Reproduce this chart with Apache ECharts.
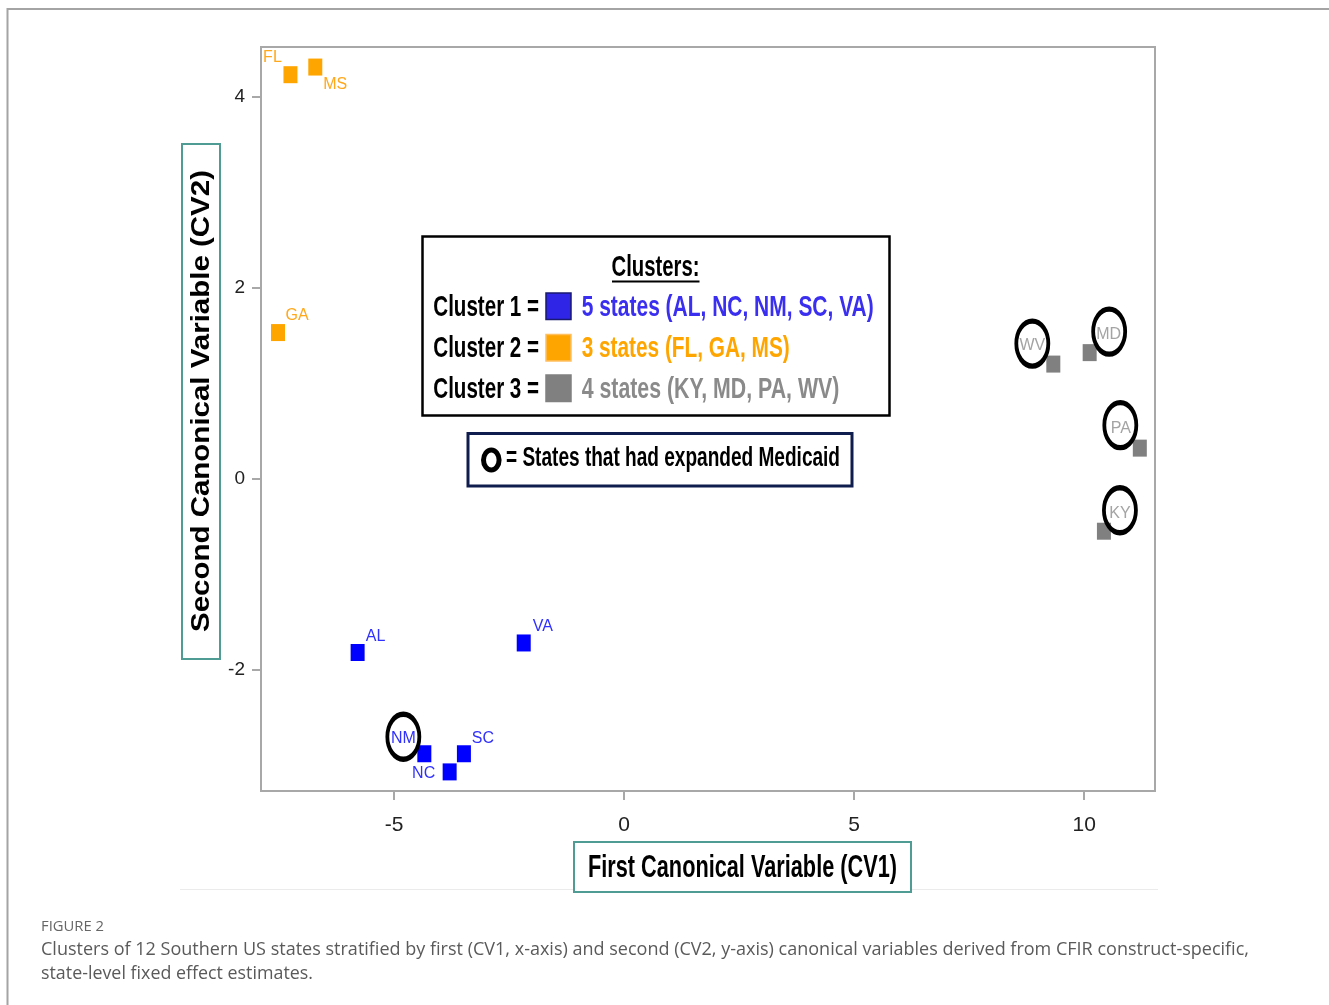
<!DOCTYPE html>
<html>
<head>
<meta charset="utf-8">
<style>
  html, body { margin: 0; padding: 0; background: #fff; }
  #chart { width: 1329px; height: 1005px; }
</style>
<script src="https://cdn.jsdelivr.net/npm/echarts@6/dist/echarts.min.js"></script>
</head>
<body>
<div id="chart"></div>
<script>
// ---------------- DATA ----------------
const states     = ['AL', 'NC', 'NM', 'SC', 'VA', 'FL', 'GA', 'MS', 'KY', 'MD', 'PA', 'WV'];
const clusterOf  = [1, 1, 1, 1, 1, 2, 2, 2, 3, 3, 3, 3];
const cv1        = [-5.79, -3.79, -4.34, -3.48, -2.18, -7.25, -7.52, -6.71, 10.43, 10.12, 11.21, 9.33];
const cv2        = [-1.82, -3.07, -2.88, -2.88, -1.72, 4.23, 1.53, 4.31, -0.55, 1.32, 0.32, 1.20];
const expandedMedicaid = ['NM', 'KY', 'MD', 'PA', 'WV'];
const xTickValues = [-5, 0, 5, 10];
const yTickValues = [-2, 0, 2, 4];
const clusterNames = ['Cluster 1 =', 'Cluster 2 =', 'Cluster 3 ='];
const clusterDescriptions = ['5 states (AL, NC, NM, SC, VA)', '3 states (FL, GA, MS)', '4 states (KY, MD, PA, WV)'];
const legendTitle = 'Clusters:';
const medicaidNote = '= States that had expanded Medicaid';
const xTitle = 'First Canonical Variable (CV1)';
const yTitle = 'Second Canonical Variable (CV2)';
const figureLabel = 'FIGURE 2';
const captionLines = [
  'Clusters of 12 Southern US states stratified by first (CV1, x-axis) and second (CV2, y-axis) canonical variables derived from CFIR construct-specific,',
  'state-level fixed effect estimates.'
];

// ---------------- STYLE ----------------
const squareColors = { 1: '#0000ff', 2: '#ffa500', 3: '#808080' };
const labelColors  = { 1: '#3030ff', 2: '#ffa81c', 3: '#a4a4a4' };
const legendTextColors = ['#3a2ff0', '#ffa500', '#8a8a8a'];
const legendSquareColors = ['#2f25e6', '#ffa500', '#808080'];
const legendSquareBorders = ['#1a1a70', '#ffc060', '#808080'];
// pixel offsets of the state labels from their squares
const labelOffset = {
  FL: [-18, -17], MS: [20, 18], GA: [19, -17], AL: [18, -16], VA: [19, -16],
  NM: [-21, -15], NC: [-26, 2], SC: [19, -15],
  WV: [-21, -18], MD: [19, -18], PA: [-19, -20], KY: [16, -18]
};
// ring offsets (around the labels of expanded-Medicaid states)
const ringOffset = {
  NM: [-21, -17], WV: [-21, -20.5], MD: [19.5, -21], PA: [-19.5, -23], KY: [16, -21]
};

const SANS = '"Liberation Sans", Arial, Helvetica, sans-serif';
const CAPTION = '"Open Sans", "Noto Sans", sans-serif';

const mctx = document.createElement('canvas').getContext('2d');
function fit(text, font, target) {
  mctx.font = font;
  return target / mctx.measureText(text).width;
}
function fittedText(text, x, y, opts) {
  const font = (opts.weight || 'normal') + ' ' + opts.size + 'px ' + opts.family;
  const s = fit(text, font, opts.width);
  return {
    type: 'text', x: x, y: y, rotation: opts.rotation || 0,
    scaleX: s, scaleY: opts.scaleY || 1, z: 100, silent: true,
    style: {
      text: text, font: font, fill: opts.color || '#000',
      textAlign: opts.align || 'left', align: opts.align || 'left',
      textVerticalAlign: 'middle', verticalAlign: 'middle'
    }
  };
}

// ---------------- SERIES ----------------
function clusterSeries(c) {
  const data = [];
  states.forEach((s, i) => {
    if (clusterOf[i] !== c) return;
    data.push({
      name: s, value: [cv1[i], cv2[i]],
      label: { offset: labelOffset[s] }
    });
  });
  return {
    type: 'scatter', name: 'Cluster ' + c, data: data,
    symbol: 'rect', symbolSize: [14, 17],
    itemStyle: { color: squareColors[c], opacity: 1 },
    label: {
      show: true, position: 'inside', formatter: '{b}',
      color: labelColors[c], fontSize: 16, fontFamily: SANS
    },
    emphasis: { disabled: true }, z: 3
  };
}

const circleData = [];
states.forEach((s, i) => {
  if (expandedMedicaid.indexOf(s) >= 0) {
    circleData.push({ name: s, value: [cv1[i], cv2[i]], symbolOffset: ringOffset[s] });
  }
});

const ring = 'path://M0,-1A1,1,0,1,1,0,1A1,1,0,1,1,0,-1Z';

// ---------------- GRAPHICS (legend, titles, caption) ----------------
const graphics = [];
graphics.push({ type: 'polyline', silent: true, z: 0,
  shape: { points: [[7.5, 1005], [7.5, 9], [1329, 9]] },
  style: { stroke: '#a4a4a4', lineWidth: 2, fill: null } });
graphics.push({ type: 'line', silent: true, z: 0,
  shape: { x1: 180, y1: 889.5, x2: 1158, y2: 889.5 },
  style: { stroke: '#ebebeb', lineWidth: 1 } });

// legend box
graphics.push({ type: 'rect', silent: true, z: 90,
  shape: { x: 422.5, y: 236.5, width: 467, height: 179 },
  style: { fill: '#fff', stroke: '#000', lineWidth: 2.5 } });
graphics.push(fittedText(legendTitle, 655.5, 267.5, { size: 30, family: SANS, weight: 'bold', width: 88, align: 'center' }));
graphics.push({ type: 'line', silent: true, z: 100,
  shape: { x1: 612, y1: 281.5, x2: 699.5, y2: 281.5 }, style: { stroke: '#000', lineWidth: 2 } });
const rowY = [307.5, 349, 389.5];
const descWidths = [292, 208, 257.6];
clusterNames.forEach((n, k) => {
  graphics.push(fittedText(n, 433.3, rowY[k], { size: 30, family: SANS, weight: 'bold', width: 105.7 }));
  graphics.push({ type: 'rect', silent: true, z: 100,
    shape: { x: 546, y: rowY[k] - 14.5, width: 25, height: 26.5 },
    style: { fill: legendSquareColors[k], stroke: legendSquareBorders[k], lineWidth: 1.5 } });
  graphics.push(fittedText(clusterDescriptions[k], 581.7, rowY[k],
    { size: 30, family: SANS, weight: 'bold', width: descWidths[k], color: legendTextColors[k] }));
});

// medicaid box
graphics.push({ type: 'rect', silent: true, z: 90,
  shape: { x: 468, y: 433.5, width: 384, height: 52.5 },
  style: { fill: '#fff', stroke: '#0e1d4d', lineWidth: 3 } });
graphics.push({ type: 'ellipse', silent: true, z: 100,
  shape: { cx: 491.3, cy: 460, rx: 7.8, ry: 10 },
  style: { fill: null, stroke: '#000', lineWidth: 5 } });
graphics.push(fittedText(medicaidNote, 506, 458, { size: 28, family: SANS, weight: 'bold', width: 334 }));

// axis title boxes
graphics.push({ type: 'rect', silent: true, z: 90,
  shape: { x: 574, y: 842, width: 337, height: 50 },
  style: { fill: '#fff', stroke: '#4f9c94', lineWidth: 2 } });
graphics.push(fittedText(xTitle, 742.5, 868, { size: 31, family: SANS, weight: 'bold', width: 309, align: 'center' }));
graphics.push({ type: 'rect', silent: true, z: 90,
  shape: { x: 182, y: 144, width: 38, height: 515 },
  style: { fill: '#fff', stroke: '#4f9c94', lineWidth: 2 } });
graphics.push(fittedText(yTitle, 202.5, 401, { size: 28, family: SANS, weight: 'bold', width: 462,
  align: 'center', rotation: Math.PI / 2, scaleY: 0.9 }));

// caption
graphics.push(fittedText(figureLabel, 41, 927, { size: 14, family: CAPTION, width: 63, color: '#666' }));
graphics.push(fittedText(captionLines[0], 41, 950, { size: 18, family: CAPTION, width: 1208, color: '#5a5a5a' }));
graphics.push(fittedText(captionLines[1], 41, 974, { size: 18, family: CAPTION, width: 272, color: '#5a5a5a' }));

// ---------------- OPTION ----------------
const axisGray = '#a8a8a8';
const option = {
  animation: false,
  backgroundColor: '#fff',
  grid: { left: 261, right: 174, top: 47, bottom: 214, show: true,
          borderColor: axisGray, borderWidth: 2, backgroundColor: 'transparent' },
  xAxis: {
    type: 'value', min: -7.89, max: 11.54,
    splitLine: { show: false },
    axisLine: { show: true, onZero: false, lineStyle: { color: axisGray, width: 2 } },
    axisTick: { show: true, length: 9, lineStyle: { color: axisGray, width: 2 }, customValues: xTickValues },
    axisLabel: { customValues: xTickValues, margin: 24, fontSize: 21, fontFamily: SANS, color: '#222' }
  },
  yAxis: {
    type: 'value', min: -3.27, max: 4.52,
    splitLine: { show: false },
    axisLine: { show: true, onZero: false, lineStyle: { color: axisGray, width: 2 } },
    axisTick: { show: true, length: 9, lineStyle: { color: axisGray, width: 2 }, customValues: yTickValues },
    axisLabel: { customValues: yTickValues, margin: 16, fontSize: 19, fontFamily: SANS, color: '#222' }
  },
  series: [
    clusterSeries(1), clusterSeries(2), clusterSeries(3),
    {
      type: 'scatter', name: 'Expanded Medicaid', data: circleData,
      symbol: ring, symbolSize: [32, 45], symbolKeepAspect: false,
      itemStyle: { color: 'rgba(0,0,0,0)', borderColor: '#000', borderWidth: 4.5, opacity: 1 },
      label: { show: false }, silent: true, emphasis: { disabled: true }, z: 4
    }
  ],
  graphic: { elements: graphics }
};

const chart = echarts.init(document.getElementById('chart'), null, { renderer: 'canvas' });
chart.setOption(option);
</script>
</body>
</html>
